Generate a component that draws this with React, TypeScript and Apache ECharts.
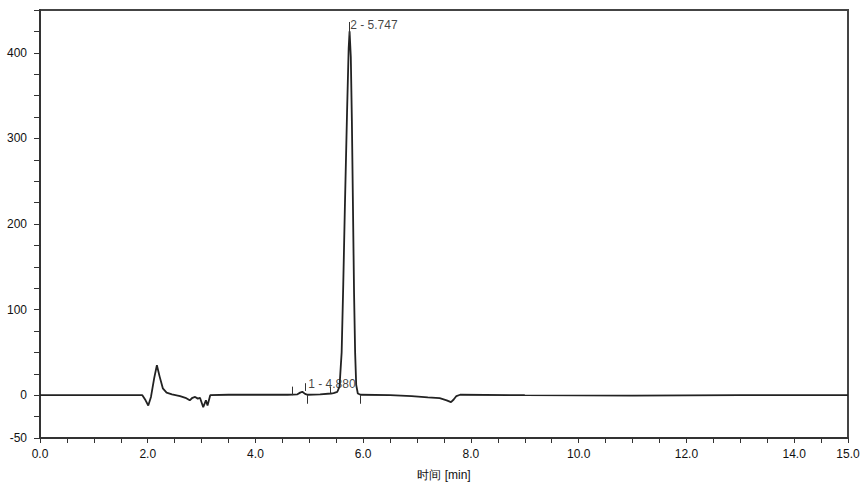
import React, { useEffect, useRef } from "react";
import * as echarts from "echarts";

// Chromatogram trace: retention time [min] and signal
const times = [
  0, 1.9, 1.96, 2.01, 2.06, 2.12, 2.17, 2.22, 2.28, 2.35, 2.45, 2.6, 2.7, 2.78, 2.83, 2.88,
  2.93, 2.97, 3.03, 3.08, 3.11, 3.16, 3.5, 4.0, 4.6, 4.78, 4.83, 4.87, 4.92, 4.97, 5.2, 5.4,
  5.45, 5.52, 5.56, 5.6, 5.63, 5.66, 5.7, 5.73, 5.747, 5.77, 5.79, 5.81, 5.83, 5.85, 5.87,
  5.9, 5.95, 6.5, 6.9, 7.2, 7.42, 7.55, 7.63, 7.68, 7.73, 7.8, 9, 11, 13, 15,
];
const signal = [
  0, 0, -6, -12, -2, 20, 35, 22, 8, 3, 1, -1, -3, -6, -3, -2,
  -4, -3, -14, -6, -12, 0, 0.5, 0.5, 0.5, 1, 3, 4, 1.5, 0.5, 1, 2,
  2.5, 4, 10, 50, 130, 220, 330, 405, 425, 395, 320, 220, 120, 50, 12,
  2, 0.5, 0, -1, -2.5, -3.5, -6, -8, -5, -1, 0.5, 0, -0.5, 0, 0,
];

// Peak annotations
const peakTimes = [4.98, 5.76];
const peakLabelValues = [13, 433];
const peakNames = ["1 - 4.880", "2 - 5.747"];

// Integration markers: [time, from, to]
const markerTimes = [4.69, 4.93, 4.97, 5.38, 5.94, 5.747];
const markerFrom = [0, 5, 0, 2, 0, 420];
const markerTo = [10, 14, -10, 10, -10, 436];

// Axis ticks
const xLabelTicks = [0, 2, 4, 6, 8, 10, 12, 14, 15];
const yLabelTicks = [-50, 0, 100, 200, 300, 400];

export default function App() {
  const ref = useRef<HTMLDivElement>(null);
  useEffect(() => {
    if (!ref.current) return;
    const chart = echarts.init(ref.current, null, { renderer: "svg" });
    const font = "Liberation Sans, Arial, sans-serif";
    const lineData = times.map((t, i) => [t, signal[i]]);
    const markLines = markerTimes.map((t, i) => [
      { coord: [t, markerFrom[i]] },
      { coord: [t, markerTo[i]] },
    ]);
    chart.setOption({
      animation: false,
      backgroundColor: "#fff",
      grid: {
        left: 40,
        right: 18,
        top: 10,
        bottom: 46,
        show: true,
        borderColor: "#444",
        borderWidth: 2,
      },
      xAxis: {
        type: "value",
        min: 0,
        max: 15,
        interval: 0.5,
        name: "时间 [min]",
        nameLocation: "middle",
        nameGap: 31,
        nameTextStyle: { fontSize: 12, color: "#111", fontFamily: font },
        axisLine: { show: true, onZero: false, lineStyle: { color: "#333", width: 2 } },
        axisTick: { show: true, length: 5, lineStyle: { color: "#333" } },
        splitLine: { show: false },
        axisLabel: {
          margin: 10,
          fontSize: 12,
          color: "#111",
          fontFamily: font,
          showMaxLabel: true,
          formatter: (v: number) =>
            xLabelTicks.some((t) => Math.abs(t - v) < 1e-6) ? v.toFixed(1) : "",
        },
      },
      yAxis: {
        type: "value",
        min: -50,
        max: 450,
        interval: 25,
        axisLine: { show: true, onZero: false, lineStyle: { color: "#333", width: 2 } },
        axisTick: { show: true, length: 6, lineStyle: { color: "#333" } },
        splitLine: { show: false },
        axisLabel: {
          margin: 13,
          fontSize: 12,
          color: "#111",
          fontFamily: font,
          formatter: (v: number) =>
            yLabelTicks.some((t) => Math.abs(t - v) < 1e-6) ? String(v) : "",
        },
      },
      series: [
        {
          type: "line",
          data: lineData,
          symbol: "none",
          lineStyle: { color: "#222", width: 1.8 },
          markLine: {
            silent: true,
            symbol: ["none", "none"],
            label: { show: false },
            lineStyle: { color: "#333", width: 1, type: "solid" },
            data: markLines,
          },
        },
        {
          type: "scatter",
          symbolSize: 0,
          data: peakTimes.map((t, i) => ({ value: [t, peakLabelValues[i]], name: peakNames[i] })),
          label: {
            show: true,
            position: "right",
            distance: 0,
            formatter: (p: any) => p.name,
            fontSize: 12,
            color: "#111",
            fontFamily: font,
          },
        },
      ],
    });
    return () => chart.dispose();
  }, []);
  return (
    <div
      ref={ref}
      style={{ position: "absolute", left: 0, top: 0, width: 866, height: 486 }}
    />
  );
}
